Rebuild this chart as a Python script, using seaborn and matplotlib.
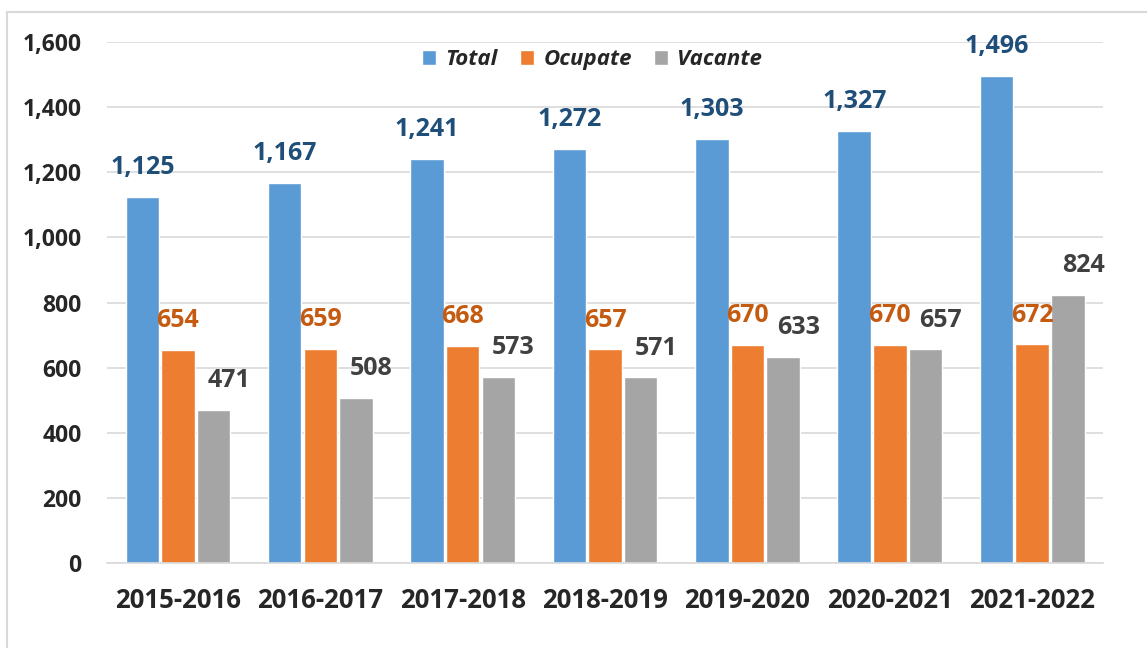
import pandas as pd
import matplotlib.pyplot as plt
import seaborn as sns
from matplotlib.patches import Rectangle

years = ['2015-2016','2016-2017','2017-2018','2018-2019','2019-2020','2020-2021','2021-2022']
total = [1125,1167,1241,1272,1303,1327,1496]
ocupate = [654,659,668,657,670,670,672]
vacante = [471,508,573,571,633,657,824]

df = pd.DataFrame({'An': years*3,
                   'Serie': ['Total']*7 + ['Ocupate']*7 + ['Vacante']*7,
                   'Valoare': total + ocupate + vacante})

sns.set_style('white')
plt.rcParams['font.family'] = ['Open Sans', 'DejaVu Sans']

fig = plt.figure(figsize=(11.47,6.48), dpi=100)
# chenar gri deschis in jurul graficului
fig.patches.append(Rectangle((7/1147, -0.1), 1.2, (648-12)/648 + 0.1, transform=fig.transFigure,
                             fill=False, edgecolor='#D9D9D9', linewidth=1.5))
ax = fig.add_axes([0.093,0.131,0.869,0.804])
colors = ['#5B9BD5','#ED7D31','#A5A5A5']
sns.barplot(data=df, x='An', y='Valoare', hue='Serie', palette=colors,
            width=0.75, gap=0.06, ax=ax, saturation=1)

# culori si deplasari pentru etichete
label_colors = ['#1F4E79','#C55A11','#404040']
x_shift = [0, 0, 11]
for cont, c, dx in zip(ax.containers, label_colors, x_shift):
    anns = ax.bar_label(cont, labels=[f'{v:,.0f}' for v in cont.datavalues], padding=12,
                        color=c, fontsize=18, fontweight='bold')
    for a in anns:
        a.xyann = (dx, 12)

ax.set_ylim(0,1600)
ax.set_yticks(range(0,1601,200))
ax.set_yticklabels([f'{v:,}' for v in range(0,1601,200)], fontsize=16.5, fontweight='bold')
ax.tick_params(axis='y', pad=18, length=0)
ax.tick_params(axis='x', pad=17, length=0, labelsize=18.5)
for t in ax.get_xticklabels():
    t.set_fontweight('bold')
ax.set_xlabel('')
ax.set_ylabel('')
ax.grid(axis='y', color='#D9D9D9', linewidth=1.2)
ax.set_axisbelow(True)
for s in ['top','right','left']:
    ax.spines[s].set_visible(False)
ax.spines['bottom'].set_color('#D9D9D9')
ax.spines['bottom'].set_linewidth(1.2)

leg = ax.legend(loc='upper center', bbox_to_anchor=(0.487,1.025), ncol=3, frameon=False,
                handlelength=0.65, handleheight=0.65, handletextpad=0.4, columnspacing=1.0,
                prop={'size':16, 'weight':'bold', 'style':'italic'})

fig.savefig('out.png', dpi=100)
